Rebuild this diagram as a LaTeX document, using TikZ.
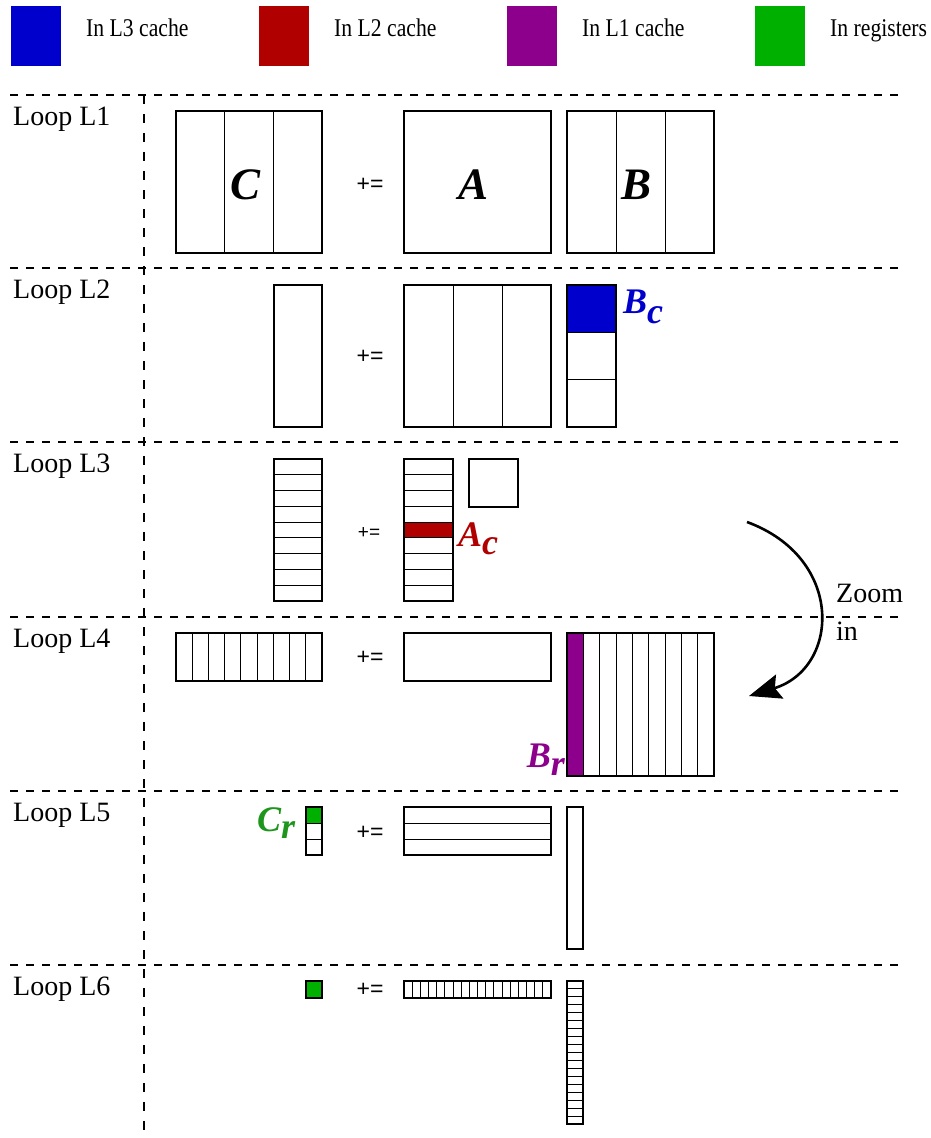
\documentclass[tikz,border=0pt]{standalone}
\usepackage{fontspec}
\setmainfont{Liberation Serif}
\newfontfamily\opfont{Liberation Sans}
\usetikzlibrary{arrows.meta}

\definecolor{lthree}{RGB}{0,0,204}
\definecolor{ltwo}{RGB}{176,0,0}
\definecolor{lone}{RGB}{140,0,140}
\definecolor{regs}{RGB}{0,176,0}
\definecolor{regtext}{RGB}{30,150,30}

% grid helpers: rectangle (x1,y1)-(x2,y2) cut into n columns / rows
\newcommand\colgrid[5]{%
  \foreach \k in {1,...,#5}{\ifnum\k<#5\relax
    \draw[cell] ({#1+(#3-#1)*\k/#5},#2) -- ({#1+(#3-#1)*\k/#5},#4);\fi}
  \draw[mat] (#1,#2) rectangle (#3,#4);}
\newcommand\rowgrid[5]{%
  \foreach \k in {1,...,#5}{\ifnum\k<#5\relax
    \draw[cell] (#1,{#2+(#4-#2)*\k/#5}) -- (#3,{#2+(#4-#2)*\k/#5});\fi}
  \draw[mat] (#1,#2) rectangle (#3,#4);}
\newcommand\legendtext[1]{\scalebox{0.85}[1]{#1}}

\begin{document}
\begin{tikzpicture}[x=1pt,y=-1pt,
  mat/.style={line width=1.4pt},
  cell/.style={line width=1.0pt},
  sep/.style={line width=1.3pt,dash pattern=on 8pt off 8pt},
  vsep/.style={line width=1.3pt,dash pattern=on 9pt off 10pt},
  looplbl/.style={anchor=base west,inner sep=0,font=\fontsize{28}{28}\selectfont},
  legtext/.style={anchor=base west,inner sep=0,font=\fontsize{25.5}{25.5}\selectfont},
  op/.style={inner sep=0,font=\opfont\fontsize{23}{23}\selectfont},
  bigname/.style={inner sep=0,font=\fontsize{45}{45}\selectfont\bfseries\itshape},
  blockname/.style={inner sep=0,font=\fontsize{36}{36}\selectfont\bfseries\itshape},
  zoomtext/.style={anchor=base west,inner sep=0,font=\fontsize{28}{28}\selectfont}]
\useasboundingbox (0,0) rectangle (931,1138);

% legend
\fill[lthree] (11,6) rectangle (61,66);
\node[legtext] (leg3) at (86,36) {\legendtext{In L3 cache}};
\fill[ltwo] (259,6) rectangle (309,66);
\node[legtext] (leg2) at (334,36) {\legendtext{In L2 cache}};
\fill[lone] (507,6) rectangle (557,66);
\node[legtext] (leg1) at (582,36) {\legendtext{In L1 cache}};
\fill[regs] (755,6) rectangle (805,66);
\node[legtext] (legr) at (830,36) {\legendtext{In registers}};

% loop separators
\foreach \y in {95,268,442,617,791,965}
  \draw[sep] (10,\y) -- (905,\y);
\draw[vsep] (144,95) -- (144,1132);

% loop labels
\node[looplbl] (l1) at (13,125) {Loop L1};
\node[looplbl] (l2) at (13,298) {Loop L2};
\node[looplbl] (l3) at (13,472) {Loop L3};
\node[looplbl] (l4) at (13,647) {Loop L4};
\node[looplbl] (l5) at (13,821) {Loop L5};
\node[looplbl] (l6) at (13,995) {Loop L6};

% ---- loop L1
\colgrid{176}{111}{322}{253}{3}
\node[op] (op1) at (370,185) {+=};
\draw[mat] (404,111) rectangle (551,253);
\colgrid{567}{111}{714}{253}{3}
\node[bigname] (nC) at (246,185) {C};
\node[bigname] (nA) at (474,185) {A};
\node[bigname] (nB) at (637,185) {B};

% ---- loop L2
\draw[mat] (274,285) rectangle (322,427);
\node[op] (op2) at (370,357) {+=};
\colgrid{404}{285}{551}{427}{3}
\fill[lthree] (567,285) rectangle (616,332);
\rowgrid{567}{285}{616}{427}{3}
\node[blockname,text=lthree,anchor=base west] (nBc) at (623,313) {B\raisebox{-10pt}{c}};

% ---- loop L3
\rowgrid{274}{459}{322}{601}{9}
\node[op,font=\opfont\fontsize{19}{19}\selectfont] (op3) at (369,533) {+=};
\fill[ltwo] ({404},{459+142*4/9}) rectangle ({453},{459+142*5/9});
\rowgrid{404}{459}{453}{601}{9}
\draw[mat] (469,459) rectangle (518,507);
\node[blockname,text=ltwo,anchor=base west] (nAc) at (458,546) {A\raisebox{-8pt}{c}};

% ---- loop L4
\colgrid{176}{633}{322}{681}{9}
\node[op] (op4) at (370,658) {+=};
\draw[mat] (404,633) rectangle (551,681);
\fill[lone] (567,633) rectangle ({567+147/9},776);
\colgrid{567}{633}{714}{776}{9}
\node[blockname,text=lone,anchor=base east] (nBr) at (565,767) {B\raisebox{-8pt}{r}};

% ---- loop L5
\fill[regs] (306,807) rectangle (322,823);
\rowgrid{306}{807}{322}{855}{3}
\node[op] (op5) at (370,833) {+=};
\rowgrid{404}{807}{551}{855}{3}
\draw[mat] (567,807) rectangle (583,949);
\node[blockname,text=regtext,anchor=base west] (nCr) at (257,831) {C\raisebox{-7pt}{r}};

% ---- loop L6
\filldraw[mat,fill=regs] (306,981) rectangle (322,998);
\node[op] (op6) at (370,990) {+=};
\colgrid{404}{981}{551}{998}{18}
\rowgrid{567}{981}{583}{1124}{18}

% zoom arrow
\coordinate (zs) at (747,522);
\coordinate (zt) at (749,696);
\draw[line width=2.6pt,-{Stealth[length=32pt,width=25pt,inset=5pt]}]
  (zs) .. controls (845,558) and (840,668) .. (zt);
\node[zoomtext] (zl1) at (836,602) {Zoom};
\node[zoomtext] (zl2) at (836,640) {in};
\end{tikzpicture}
\end{document}
